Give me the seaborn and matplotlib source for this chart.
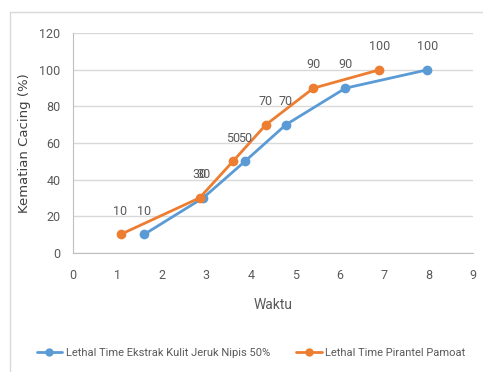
import matplotlib
matplotlib.use("Agg")
import matplotlib.pyplot as plt
from matplotlib.patches import Rectangle
import seaborn as sns
import pandas as pd

# Lethal time observations (time vs. worm mortality %)
waktu_ekstrak = [1.6, 2.93, 3.87, 4.79, 6.13, 7.97]
kematian_ekstrak = [10, 30, 50, 70, 90, 100]
waktu_pirantel = [1.07, 2.85, 3.6, 4.34, 5.41, 6.89]
kematian_pirantel = [10, 30, 50, 70, 90, 100]

seri_ekstrak = "Lethal Time Ekstrak Kulit Jeruk Nipis 50%"
seri_pirantel = "Lethal Time Pirantel Pamoat"

x_ticks = list(range(0, 10))
y_ticks = list(range(0, 121, 20))

df = pd.concat([
    pd.DataFrame({"Waktu": waktu_ekstrak, "Kematian": kematian_ekstrak, "Seri": seri_ekstrak}),
    pd.DataFrame({"Waktu": waktu_pirantel, "Kematian": kematian_pirantel, "Seri": seri_pirantel}),
], ignore_index=True)

sns.set_style("white")
plt.rcParams["font.family"] = ["Roboto", "DejaVu Sans"]

text_gray = "#595959"
colors = {seri_ekstrak: "#5B9BD5", seri_pirantel: "#ED7D31"}

fig = plt.figure(figsize=(4.83, 3.72), dpi=100)
fig.patch.set_facecolor("white")

# outer chart-area border
fig.patches.append(Rectangle((10 / 483, -0.1), 1.0, (372 - 12) / 372 + 0.1,
                             transform=fig.transFigure, fill=False,
                             edgecolor="#D9D9D9", linewidth=1.0))

ax = fig.add_axes([73 / 483, (372 - 252.7) / 372, 400 / 483, (252.7 - 33.3) / 372])

sns.lineplot(data=df, x="Waktu", y="Kematian", hue="Seri", palette=colors,
             marker="o", markersize=7, markeredgewidth=0, linewidth=2.0,
             sort=False, ax=ax, legend=True, zorder=3)

# value labels above each point
for xs, ys in [(waktu_ekstrak, kematian_ekstrak), (waktu_pirantel, kematian_pirantel)]:
    for xv, yv in zip(xs, ys):
        ax.annotate(f"{yv}", (xv, yv), xytext=(0, 12), textcoords="offset points",
                    ha="center", va="bottom", fontsize=9, color=text_gray)

ax.set_xlim(0, 9)
ax.set_ylim(0, 120)
ax.set_xticks(x_ticks)
ax.set_yticks(y_ticks)
ax.tick_params(axis="both", labelsize=9, labelcolor=text_gray, length=0, pad=9)
ax.tick_params(axis="x", length=4, color="#BFBFBF", direction="out", pad=8)
ax.grid(axis="y", color="#D9D9D9", linewidth=1.0)
ax.grid(axis="x", visible=False)
for s in ["top", "right"]:
    ax.spines[s].set_visible(False)
ax.spines["left"].set_color("#BFBFBF")
ax.spines["bottom"].set_color("#BFBFBF")

ax.set_xlabel("Waktu", fontsize=10, color=text_gray, labelpad=11)
ax.set_ylabel("Kematian Cacing (%)", fontsize=9.5, color="#404040",
              family=["DejaVu Sans"], labelpad=6)

handles, labels = ax.get_legend_handles_labels()
ax.get_legend().remove()
for h in handles:
    h.set_markersize(6)
fig.legend(handles, labels, loc="center", bbox_to_anchor=(0.52, 0.052), ncol=2,
           frameon=False, fontsize=8, labelcolor=text_gray, handlelength=2.3,
           columnspacing=2.4, handletextpad=0.3)

fig.savefig("out.png", dpi=100)
